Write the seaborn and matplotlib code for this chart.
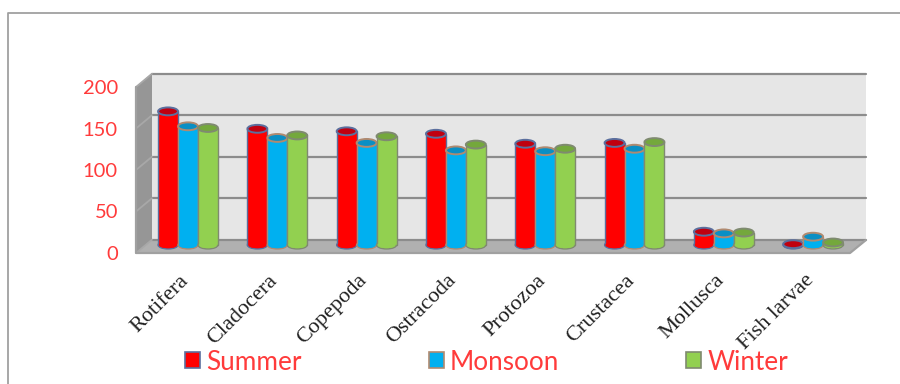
import matplotlib
matplotlib.use("Agg")
import matplotlib.pyplot as plt
import pandas as pd
import seaborn as sns
from matplotlib.patches import Ellipse, Polygon
from matplotlib.transforms import Affine2D

groups = ["Rotifera", "Cladocera", "Copepoda", "Ostracoda", "Protozoa", "Crustacea", "Mollusca", "Fish larvae"]
seasons = ["Summer", "Monsoon", "Winter"]
summer = [161, 140, 137, 134, 122, 123, 16, 1]
monsoon = [143, 129, 123, 114, 113, 116, 14, 10]
winter = [141, 132, 131, 121, 116, 124, 15, 3]
y_ticks = [0, 50, 100, 150, 200]

fills = ["#ff0000", "#00b0f0", "#92d050"]
caps = ["#c00010", "#0a8fc4", "#74a83c"]
edges = ["#5b6f9e", "#b08a70", "#7f8a70"]
label_red = "#ff3b3b"

W, H = 900, 384
sns.set_theme(style="white")
fig = plt.figure(figsize=(W / 100, H / 100), dpi=100, facecolor="white")


def to_fig(points):
    return [(x / W, 1 - y / H) for x, y in points]


def wall(points, color):
    fig.add_artist(Polygon(to_fig(points), closed=True, facecolor=color, edgecolor="none",
                           transform=fig.transFigure, zorder=-2))


def rule(points, color, lw):
    xs, ys = zip(*to_fig(points))
    fig.add_artist(plt.Line2D(xs, ys, color=color, lw=lw, transform=fig.transFigure, zorder=-1))


# Outer frame of the chart area
rule([(8, 384), (8, 13), (900, 13)], "#a0a0a0", 1.3)

# Walls and floor of the box
wall([(152, 73), (866, 73), (866, 240), (152, 240)], "#e6e6e6")
wall([(136, 87), (152, 73), (152, 240), (136, 253)], "#969696")
wall([(136, 253), (152, 240), (866, 240), (850, 253)], "#b0b0b0")

# Axes plane: zero on the front floor edge, 200 at the top of the front corner
left, right, top, bottom = 136, 866, 87, 253
ax = fig.add_axes([left / W, 1 - bottom / H, (right - left) / W, (bottom - top) / H])
ax.patch.set_alpha(0)

frame = pd.DataFrame({
    "group": groups * 3,
    "season": [s for s in seasons for _ in groups],
    "value": summer + monsoon + winter,
})
sns.barplot(data=frame, x="group", y="value", hue="season", hue_order=seasons,
            palette=fills, saturation=1, width=0.67, gap=0, dodge=True, ax=ax, zorder=3)

ax.set_xlim((left - 188) / 89.3, (right - 188) / 89.3)
ax.set_ylim(0, 200)
ax.set_xlabel("")
ax.set_ylabel("")

# Gridlines run along the back wall and up the side wall
for v in y_ticks:
    y_px = H - ax.transData.transform((0, v))[1]
    rule([(152, y_px - 13.3), (866, y_px - 13.3)], "#8c8c8c", 1.6)
    rule([(136, y_px), (152, y_px - 13.3)], "#a8a8a8", 1.3)
rule([(136, 87), (136, 253), (850, 253), (866, 240)], "#a0a0a0", 1.6)

# Cylinders: bars lifted onto the floor, with a rounded base and a darker top
lift = Affine2D().translate(0, 8)
cap_h = 9.5
for i, bars in enumerate(ax.containers):
    for bar in bars:
        x, w, v = bar.get_x(), bar.get_width(), bar.get_height()
        bar.set_transform(ax.transData + lift)
        bar.set_edgecolor(edges[i])
        bar.set_linewidth(1.0)
        bar.set_zorder(3 + i * 0.1)
        base = Ellipse((x + w / 2, 0), w, cap_h, facecolor=fills[i], edgecolor=edges[i], lw=1.0,
                       zorder=2.95 + i * 0.1, clip_on=False, transform=ax.transData + lift)
        # Plain fill over the seam where the bar outline meets the rounded base
        seam = Ellipse((x + w / 2, 0), w * 0.92, cap_h * 0.8, facecolor=fills[i], edgecolor="none",
                       zorder=3.02 + i * 0.1, clip_on=False, transform=ax.transData + lift)
        head = Ellipse((x + w / 2, v), w, cap_h, facecolor=caps[i], edgecolor=edges[i], lw=1.4,
                       zorder=3.05 + i * 0.1, clip_on=False, transform=ax.transData + lift)
        ax.add_patch(base)
        ax.add_patch(seam)
        ax.add_patch(head)

ax.set_yticks(y_ticks)
ax.tick_params(axis="both", length=0)
ax.tick_params(axis="y", pad=13)
for t in ax.get_yticklabels():
    t.set_fontfamily("Lato")
    t.set_fontsize(14.5)
    t.set_color(label_red)
ax.set_xticks(range(len(groups)))
ax.set_xticklabels(groups, rotation=45, ha="right", va="top", rotation_mode="anchor",
                   fontfamily="Liberation Serif", fontsize=16, color="#222222")
ax.tick_params(axis="x", pad=13)
shift = Affine2D().translate(-9, 0)
for t in ax.get_xticklabels():
    t.set_transform(t.get_transform() + shift)
sns.despine(ax=ax, left=True, bottom=True)

sns.move_legend(ax, "center left", bbox_to_anchor=(185 / W, 1 - 362 / H), bbox_transform=fig.transFigure,
                ncol=3, frameon=False, title=None, columnspacing=4.85, handlelength=0.58, handleheight=0.58,
                handletextpad=0.24, borderaxespad=0, borderpad=0, prop={"family": "Lato", "size": 18.8})
legend = ax.get_legend()
for text in legend.get_texts():
    text.set_color(label_red)
for handle, edge in zip(legend.get_patches(), edges):
    handle.set_edgecolor(edge)
    handle.set_linewidth(1.2)

fig.savefig("out.png", dpi=100, facecolor="white")
